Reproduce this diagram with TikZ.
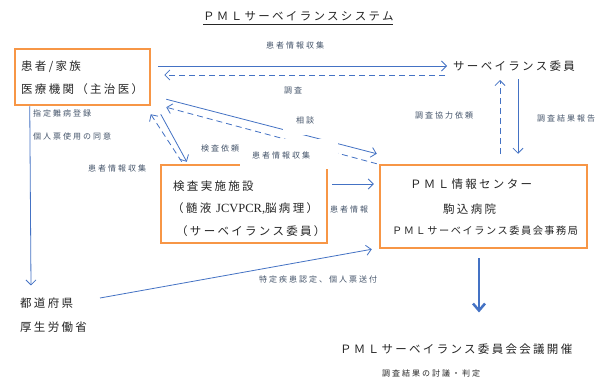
\documentclass[tikz,border=0pt]{standalone}
\usepackage{fontspec}
\usetikzlibrary{arrows.meta,calc}
\newfontfamily\jp[LetterSpace=20]{Noto Sans CJK JP}
\newfontfamily\jps[LetterSpace=25]{Noto Sans CJK JP}
\newfontfamily\jpm[LetterSpace=15]{Noto Sans CJK JP}
\newfontfamily\latserif{Liberation Serif}
\definecolor{lblue}{HTML}{4472C4}
\definecolor{borange}{HTML}{F79646}
\definecolor{lblc}{HTML}{44546A}
\definecolor{txtc}{HTML}{262626}
\tikzset{
  txt/.style={inner sep=0pt, anchor=west, text=txtc, font=\jp\fontsize{11.5}{13}\selectfont},
  txtm/.style={txt, font=\jpm\fontsize{10.2}{12}\selectfont},
  lab/.style={inner sep=0pt, text=lblc, font=\jps\fontsize{8}{10}\selectfont},
  labw/.style={lab, anchor=west},
  obox/.style={draw=borange, line width=2.5pt, inner sep=0pt},
  arr/.style={draw=lblue, line width=0.8pt, -{Straight Barb[length=5pt,width=10pt]}},
  dsh/.style={arr, dash pattern=on 6pt off 4pt},
  bigarr/.style={draw=lblue, line width=2.5pt, -{Straight Barb[length=7pt,width=12pt]}},
  mask/.style={fill=white}
}
\begin{document}
\begin{tikzpicture}[x=1pt,y=-1pt]
\useasboundingbox[fill=white] (0,0) rectangle (600,380);

% title
\node[txt] (title) at (203,16) {ＰＭＬサーベイランスシステム};
\draw[txtc, line width=0.6pt] ($(title.south west)+(0,3)$) -- ($(title.south east)+(-1,3)$);

% boxes
\node[obox, minimum width=135pt, minimum height=56pt] (b1) at (82.5,77) {};
\node[obox, minimum width=166pt, minimum height=78pt] (tb) at (244,204) {};
\node[obox, minimum width=207pt, minimum height=83pt] (pml) at (483.5,206.5) {};

% texts
\node[txt] (t1a) at (21,67) {患者/家族};
\node[txt] (t1b) at (21,89) {医療機関（主治医）};
\node[txt] (comm) at (453,66) {サーベイランス委員};
\node[txt] (p1) at (410,184) {ＰＭＬ情報センター};
\node[txt] (p2) at (443,209) {駒込病院};
\node[txtm] (p3) at (392,231) {ＰＭＬサーベイランス委員会事務局};
\node[txt] (k1) at (173,186) {検査実施施設};
\node[txt] (k2) at (172,209) {（髄液 {\latserif\fontsize{12.5}{13}\selectfont JCVPCR,}脳病理）};
\node[txt] (k3) at (176,231) {（サーベイランス委員）};
\node[txt] (pref) at (20,303) {都道府県};
\node[txt] (mhlw) at (20,327) {厚生労働省};
\node[txt] (meet) at (340,349) {ＰＭＬサーベイランス委員会会議開催};
\node[labw, text=txtc] (note) at (382,373) {調査結果の討議・判定};

% connectors
\draw[arr] ($(b1.east)+(7,-11)$) -- ($(comm.west)+(-6,0)$);
\draw[dsh] ($(comm.west)+(-8,9)$) -- ($(b1.east)+(13,-2)$);
\draw[dsh] ($(pml.north)+(16.5,-10)$) -- ($(comm.west)+(47,14)$);
\draw[arr] ($(comm.west)+(65,13)$) -- ($(pml.north)+(34.5,-10)$);
\draw[arr] ($(b1.south west)+(147,8)$) -- ($(tb.north west)+(27,-2)$);
\draw[dsh] ($(tb.north west)+(22,-2)$) -- ($(b1.south west)+(137,8)$);
\draw[arr] ($(b1.south east)+(15,-7)$) -- ($(pml.north west)+(-2,-10)$);
\draw[dsh] ($(pml.north west)+(-2,0)$) -- ($(b1.south east)+(15,1)$);
\draw[arr] ($(tb.east)+(4,-20)$) -- ($(pml.west)+(-5,-22.5)$);
\draw[arr] ($(pref.west)+(80,-5)$) -- ($(pml.south west)+(-7,0)$);
\draw[arr] ($(b1.south west)+(16,0)$) -- ($(pref.north west)+(11,-12)$);
\draw[bigarr] ($(pml.south)+(-4.5,9)$) -- ($(meet.north west)+(139,-31)$);

% white masks behind labels
\fill[mask] (283,107) rectangle (338,135);
\fill[mask] (240,139) rectangle (338,169);

% labels
\node[lab] (l1) at (295,45) {患者情報収集};
\node[lab] (l2) at (293,90) {調査};
\node[lab] (l3) at (305,120) {相談};
\node[lab] (l4) at (281,155) {患者情報収集};
\node[lab] (l5) at (220,148) {検査依頼};
\node[lab] (l6) at (117,168) {患者情報収集};
\node[labw] (l7) at (33,113) {指定難病登録};
\node[labw] (l8) at (33,136) {個人票使用の同意};
\node[lab] (l9) at (444,115) {調査協力依頼};
\node[lab] (l10) at (566,118) {調査結果報告};
\node[lab] (l11) at (349,209) {患者情報};
\node[lab] (l12) at (318,279) {特定疾患認定、個人票送付};
\end{tikzpicture}
\end{document}
